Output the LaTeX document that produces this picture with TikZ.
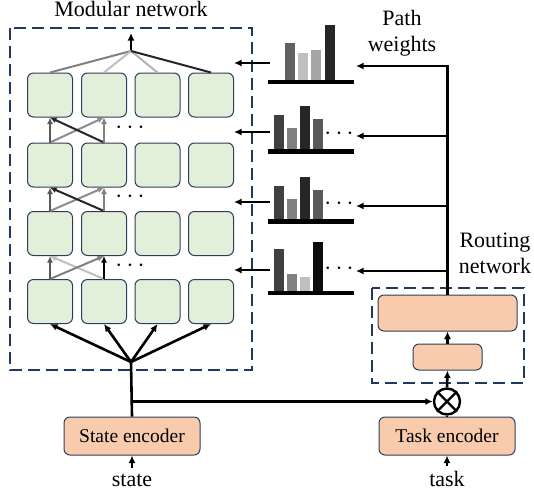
\documentclass[tikz,border=0pt]{standalone}
\usepackage{fontspec}
\setmainfont{Liberation Serif}
\usetikzlibrary{arrows.meta}

\definecolor{modfill}{HTML}{E2EFDA}
\definecolor{modline}{HTML}{2F3E56}
\definecolor{encfill}{HTML}{F8CBAD}
\definecolor{dashblue}{HTML}{1F3864}

\tikzset{
  module/.style={draw=modline, line width=1pt, fill=modfill, rounded corners=6pt,
    minimum width=45pt, minimum height=44pt, inner sep=0pt},
  encoder/.style={draw=modline, line width=1pt, fill=encfill, rounded corners=6pt,
    inner sep=0pt, font=\rmfamily\fontsize{19.5}{22}\selectfont},
  arr/.style={line width=2.6pt, -{Latex[length=7.5pt,width=7pt]}},
  link/.style={line width=2pt, -{Latex[length=6.5pt,width=6pt]}},
  dashbox/.style={draw=dashblue, line width=2.4pt, dash pattern=on 12pt off 6pt},
  title/.style={font=\rmfamily\fontsize{22}{26}\selectfont, inner sep=0pt},
  dots/.style={font=\fontsize{27}{30}\selectfont, inner sep=0pt},
}

\begin{document}
\begin{tikzpicture}[x=1pt, y=-1pt]
\useasboundingbox (0,0) rectangle (534,490);
%\draw[step=10,gray,very thin] (0,0) grid (534,490); %background grid

% modular network
\draw[dashbox] (10,28) rectangle (252,370);
\node[title, anchor=base] (modtitle) at (131,16.5) {Modular network};
\foreach \r/\y in {1/95,2/165,3/233.5,4/301.5}
  \foreach \c/\x in {1/50,2/104,3/157.5,4/211}
    \node[module] (m\r\c) at (\x,\y) {};

% output of the last layer
\coordinate (top) at (131,51);
\coordinate (out) at (131,33);
\draw[arr] (top) -- (out);
\draw[line width=2pt, black!50] (m11.north) -- (top);
\draw[line width=2pt, black!25] (m12.north) -- (top);
\draw[line width=2pt, black!30] (m13.north) -- (top);
\draw[line width=2pt, black!85] (m14.north) -- (top);

% links between layers
\foreach \lo/\hi in {2/1,3/2} {
  \draw[link, black!45] (m\lo1.north) -- (m\hi2.south);
  \draw[link, black!85] (m\lo2.north) -- (m\hi1.south);
  \draw[link, black!65] (m\lo1.north) -- (m\hi1.south);
  \draw[link, black!50] (m\lo2.north) -- (m\hi2.south);
}
\draw[link, black!25] (m42.north) -- (m31.south);
\draw[link, black!50] (m41.north) -- (m32.south);
\draw[link, black!65] (m41.north) -- (m31.south);
\draw[link, black] (m42.north) -- (m32.south);

\node[dots] (dots12) at (130,128) {$\cdots$};
\node[dots] (dots23) at (130,197) {$\cdots$};
\node[dots] (dots34) at (130,266) {$\cdots$};

% input fan
\coordinate (fan) at (131,362);
\foreach \c in {1,...,4}
  \draw[arr] (fan) -- (m4\c.south);

% encoders
\node[encoder, minimum width=136pt, minimum height=38pt] (se) at (132,436) {State encoder};
\node[encoder, minimum width=136pt, minimum height=38pt] (te) at (447,436) {Task encoder};
\node[title, anchor=base] (state) at (132,486) {state};
\node[title, anchor=base] (task) at (447,486) {task};
\draw[arr, shorten <=5pt] (state.north) -- (se.south);
\draw[arr, shorten <=5pt] (task.north) -- (te.south);

\node[circle, draw, line width=2.4pt, minimum size=26pt, inner sep=0pt] (mul) at (447,401.5) {};
\draw[line width=2.4pt] (mul.north west) -- (mul.south east);
\draw[line width=2.4pt] (mul.north east) -- (mul.south west);

\draw[line width=2.6pt] (se.north) -- (fan);
\draw[arr] (se.north |- mul) -- (mul.west);
\draw[line width=2.4pt] (te.north) -- (mul.south);

% routing network
\draw[dashbox] (372,288) rectangle (524,383);
\node[title, align=center, anchor=north] (routetitle) at (495,233) {Routing\\network};
\node[encoder, minimum width=139pt, minimum height=36pt] (rb) at (447.5,313) {};
\node[encoder, minimum width=69pt, minimum height=26pt] (rs) at (447.5,357) {};
\draw[arr] (mul.north) -- (rs.south);
\draw[arr] (rs.north) -- (rb.south);

% path weights
\node[title, align=center, anchor=north] (pathtitle) at (402,10) {Path\\weights};
\foreach \x/\t/\col in {285/43/black!62, 298/53/black!25, 311/50/black!35, 325/25/black!85}
  \fill[\col] (\x,79.5) rectangle (\x+10,\t);
\foreach \x/\t/\col in {274/115/black!75, 287/128/black!50, 300/106/black!85, 313/119/black!65}
  \fill[\col] (\x,149) rectangle (\x+10,\t);
\foreach \x/\t/\col in {274/186/black!75, 287/199/black!50, 300/177/black!85, 313/190/black!65}
  \fill[\col] (\x,219) rectangle (\x+10,\t);
\foreach \x/\t/\col in {274/249/black!75, 287/274/black!50, 300/277/black!25, 313/242/black!95}
  \fill[\col] (\x,290.5) rectangle (\x+10,\t);
\foreach \y in {79.5,149,219,290.5}
  \fill (268,\y) rectangle (354,\y+4.8);
\node[dots] (dots2) at (339,134) {$\cdots$};
\node[dots] (dots3) at (339,204) {$\cdots$};
\node[dots] (dots4) at (339,269) {$\cdots$};

% weights from routing network to the charts
\coordinate (p1) at (356,66);
\coordinate (p2) at (356,136);
\coordinate (p3) at (356,206);
\coordinate (p4) at (356,271);
\draw[arr] (rb.north) |- (p1);
\foreach \i in {2,3,4}
  \draw[arr] (rb.north |- p\i) -- (p\i);

% weights into the modular network
\coordinate (q1) at (270,63);
\coordinate (q2) at (270,132);
\coordinate (q3) at (270,202);
\coordinate (q4) at (270,270);
\foreach \i in {1,...,4}
  \draw[arr] (q\i) -- (m14.east |- q\i);
\end{tikzpicture}
\end{document}
